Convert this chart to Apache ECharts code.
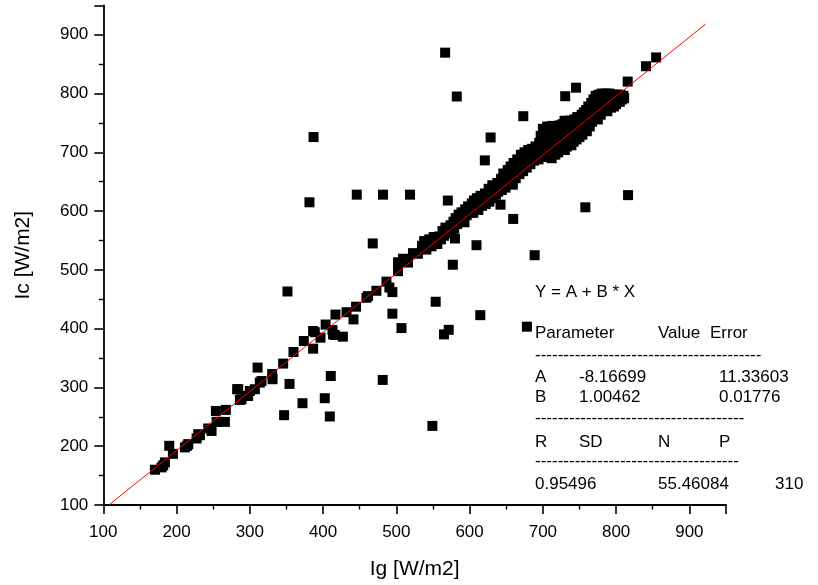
<!DOCTYPE html>
<html>
<head>
<meta charset="utf-8">
<script src="https://cdn.jsdelivr.net/npm/echarts@6/dist/echarts.min.js"></script>
<style>html,body{margin:0;padding:0;background:#fff}#c{width:818px;height:585px}</style>
</head>
<body>
<div id="c"></div>
<script>
// ---- Data (Ig, Ic) ----
const lowPoints = [
 [170.5,160],[179.6,164],[181.8,167.5],[184.1,172.5],[190,200.7],[195,187],[211.4,198],[214.5,200.7],
 [216,203.6],[227.4,213.2],[229.6,220.5],[231.9,218.8],[243.2,230.2],[247.8,226],[253.7,260],[254.6,241.4],
 [256.8,241.4],[266,241.4],[267.3,261.8],[282.7,297],[284.1,297],[286.4,278.8],[288.7,280],[295.6,285.6],
 [297.7,285.6],[300,294],[306.9,297],[310.6,333.8],[313.7,308.3],[316,311],[330.5,322.9],[331,314],
 [345.5,340.6],[346.8,252.8],[351.4,463.3],[354.2,306],[359.6,360.3],[371.9,273.2],[373.7,379],[386.4,366],
 [386.4,396],[388.7,394],[396.5,384.7],[402.3,281.7],[403.5,407],[409.2,250.6],[410.5,319.5],[412.8,397.6],
 [413.6,390.3],[416,389.2],[416.9,424],[427,386.4],[432,428],[441.5,415.8],[445,437.4],[459.2,452.6],
 [461.4,455.4],[472.8,464.5],[481.4,312.8],[486.5,480],[490.5,470],[494.6,462.2],[494.6,425.5],[502.3,513],
 [502.3,497.8],[507,401],[509.1,519],[515.9,512.5],[522.7,528.5],[529.5,527.5],[538.7,546],[541,534.6],
 [549.2,234.6]
];
const outlierPoints = [
 [566.6,869.6],[582.5,795],[387,726],[381.4,615],[446,628],[481.8,628],[518.7,628],[570.3,618],
 [467.8,545],[854.6,861.5],[840.8,846.5],[815.8,820.4],[745.3,810],[730.5,795.5],[673.3,761.5],[729.6,753.7],
 [628.7,725.3],[620.8,686.3],[642.2,611],[659.5,586.7],[580,553.5],[609.4,542],[688.8,525],[758,606.5],
 [816.3,627.2],[577.1,508.8],[614.6,423],[565,390.3],[571.5,398],[678.2,403.4],[553.7,445.8]
];
const bandPoints = [
 [535,541],[538,549],[542,545],[545,552],[548,540],[551,556],[553,548],[556,544],[559,557],[561,552],
 [563,566],[565,558],[567,572],[569,562],[572,569],[574,576],[576,565],[578,582],[579,571],
 [581,588],[583,578],[585,594],[587,584],[589,598],[591,589],[593,581],[594,603],[596,593],[598,608],[599,598],
 [601,604],[603,613],[605,597],[606,618],[608,607],[610,622],[612,602],[613,614],[615,626],[617,609],[619,620],
 [621,630],[622,612],[624,624],[626,638],[627,616],[629,630],[631,644],[632,622],[634,636],[636,628],[638,648],[639,633],
 [641,642],[643,655],[644,636],[646,664],[647,648],[649,640],[651,660],[652,670],[654,650],[656,676],[657,658],[659,645],[660,682],[660,666],
 [662,672],[663,656],[665,688],[666,678],[668,663],[670,696],[671,684],[673,668],[675,700],[676,690],[678,674],[680,704],[681,694],[683,680],[685,706],[686,698],[688,686],[690,710],[690,692],
 [692,702],[694,688],[695,716],[697,728],[698,696],[700,740],[701,708],[702,722],[703,692],[705,732],[706,744],[707,700],[708,714],[709,726],[711,738],[712,690],[713,745],[714,704],[715,720],[716,732],[717,696],[718,742],[719,710],[720,726],
 [721,700],[722,736],[723,746],[724,716],[725,706],[726,728],[727,748],[728,712],[729,738],[730,704],[731,722],[732,750],[733,710],[734,732],[735,742],[736,716],[737,754],[738,724],[739,712],[740,744],[741,734],[742,718],[743,756],[744,728],[745,740],[746,722],[747,760],[748,732],[749,748],[750,726],
 [751,756],[752,738],[753,764],[754,730],[755,748],[756,768],[757,740],[758,758],[759,772],[760,736],[761,750],[762,778],[763,762],[764,744],[765,770],[766,784],[767,752],[768,776],[769,790],[770,760],[771,782],[772,796],[773,766],[774,788],[775,756],[776,798],[777,776],[778,790],[779,764],[780,800],
 [781,784],[782,772],[783,796],[784,790],[785,778],[786,800],[787,786],[788,770],[789,796],[790,780],[791,800],[792,790],[793,776],[795,798],[796,786],[797,778],[798,798],[799,790],[800,782],[801,798],[802,788],[804,794],[805,786],[806,798],[808,790],[810,796],[811,792]
];
// Linear fit parameters (from the reference)
const fitA = -8.16699, fitB = 1.00462;
const fitXRange = [107.7, 922];
const xTicks = [100,200,300,400,500,600,700,800,900];
const yTicks = [100,200,300,400,500,600,700,800,900];

const fitLine = fitXRange.map(x => [x, fitA + fitB * x]);
const allPoints = lowPoints.concat(outlierPoints, bandPoints);

const FONT = 'Liberation Sans, Arial, sans-serif';
const chart = echarts.init(document.getElementById('c'), null, {renderer: 'canvas'});

const axisCommon = {
  type: 'value', min: 100, max: 950, interval: 100,
  axisLine: {show: true, onZero: false, lineStyle: {color: '#000', width: 1.8}},
  axisTick: {show: true, inside: false, length: 9, lineStyle: {color: '#000', width: 1.6}},
  minorTick: {show: true, splitNumber: 2, length: 4.5, lineStyle: {color: '#000', width: 1.4}},
  splitLine: {show: false},
  axisLabel: {color: '#000', fontSize: 17, fontFamily: FONT, showMaxLabel: false,
    formatter: v => (xTicks.indexOf(v) >= 0 ? String(v) : '')},
  nameLocation: 'middle',
  nameTextStyle: {color: '#000', fontSize: 21, fontFamily: FONT}
};

const textLines = [
  {t: 'Y = A + B * X', x: 535, y: 293},
  {t: 'Parameter', x: 535, y: 334}, {t: 'Value', x: 658, y: 334}, {t: 'Error', x: 710, y: 334},
  {t: '----------------------------------------', x: 535, y: 356},
  {t: 'A', x: 535, y: 378}, {t: '-8.16699', x: 579, y: 378}, {t: '11.33603', x: 719, y: 378},
  {t: 'B', x: 535, y: 398}, {t: '1.00462', x: 579, y: 398}, {t: '0.01776', x: 719, y: 398},
  {t: '-------------------------------------', x: 535, y: 419},
  {t: 'R', x: 535, y: 443}, {t: 'SD', x: 579, y: 443}, {t: 'N', x: 658, y: 443}, {t: 'P', x: 719, y: 443},
  {t: '------------------------------------', x: 535, y: 462},
  {t: '0.95496', x: 535, y: 485}, {t: '55.46084', x: 658, y: 485}, {t: '310', x: 775, y: 485}
];

chart.setOption({
  animation: false,
  backgroundColor: '#fff',
  grid: {left: 103.3, right: 92, top: 5.4, bottom: 79, containLabel: false},
  xAxis: Object.assign({}, axisCommon, {
    name: 'Ig [W/m2]', nameGap: 54,
    axisLabel: Object.assign({}, axisCommon.axisLabel, {margin: 19})
  }),
  yAxis: Object.assign({}, axisCommon, {
    name: 'Ic [W/m2]', nameGap: 70,
    axisLabel: Object.assign({}, axisCommon.axisLabel, {margin: 15})
  }),
  series: [
    {type: 'scatter', data: allPoints, symbol: 'rect', symbolSize: 10,
     itemStyle: {color: '#000', opacity: 1}, silent: true, z: 2},
    {type: 'line', data: fitLine, showSymbol: false, symbol: 'none',
     lineStyle: {color: '#ff0000', width: 1}, silent: true, z: 3}
  ],
  graphic: textLines.map(o => ({
    type: 'text', left: o.x, top: o.y - 9, z: 10,
    style: {text: o.t, fill: '#000', font: '17px ' + FONT}
  }))
});
</script>
</body>
</html>
